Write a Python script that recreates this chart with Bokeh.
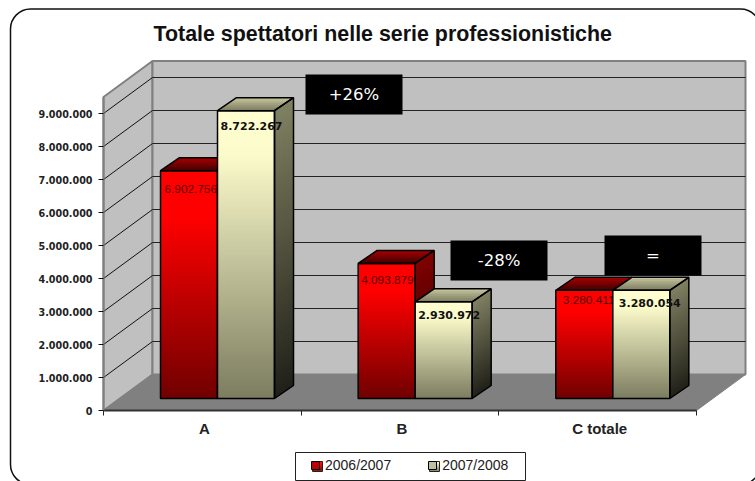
from bokeh.embed import file_html
from bokeh.resources import INLINE
from bokeh.plotting import figure
from bokeh.models import (Range1d, FixedTicker, BoxAnnotation, Legend, LegendItem, Label)
from bokeh.core.properties import value as fixed

title_text = "Totale spettatori nelle serie professionistiche"
categories = ["A", "B", "C totale"]
series_names = ["2006/2007", "2007/2008"]
values_0607 = [6902756, 4093879, 3280411]
values_0708 = [8722267, 2930972, 3280054]
y_ticks = [0, 1000000, 2000000, 3000000, 4000000, 5000000, 6000000, 7000000, 8000000, 9000000]
y_tick_labels = ["0", "1.000.000", "2.000.000", "3.000.000", "4.000.000",
                 "5.000.000", "6.000.000", "7.000.000", "8.000.000", "9.000.000"]
notes = ["+26%", "-28%", "="]

# page pixel geometry: the frame fills the canvas, the axes sit at these pixels
W, H = 755, 481
AX, AY = 103, 410
S = 593 / 3          # pixels per category
PPV = 33 / 1e6       # pixels per spectator


def X(px):
    return (px - AX) / S


def Y(py):
    return (AY - py) / PPV


p = figure(width=W, height=H, output_backend="svg", toolbar_location=None,
           x_range=Range1d(X(0), X(W)), y_range=Range1d(Y(H), Y(0)),
           min_border_left=0, min_border_right=0, min_border_top=0, min_border_bottom=0,
           outline_line_color=None, background_fill_color="white", border_fill_color="white")
p.grid.visible = False

# outer rounded frame
p.add_layout(BoxAnnotation(left=X(10), right=X(760), top=Y(8.5), bottom=Y(484), fill_alpha=0,
                           line_color="#111111", line_alpha=1, line_width=1.5, border_radius=20, level="underlay"))

p.add_layout(Label(x=X(153), y=Y(33), text=title_text, text_font="Liberation Sans", text_font_style="bold",
                   text_font_size="21.4px", text_color="#111111", text_baseline="middle"))

# axes
ya = p.yaxis[0]
ya.fixed_location = 0
ya.ticker = FixedTicker(ticks=y_ticks)
ya.major_label_overrides = dict(zip(y_ticks, y_tick_labels))
ya.bounds = (0, 9500000)
ya.axis_line_color = "#808080"
ya.axis_line_width = 2
ya.major_tick_out = 5
ya.major_tick_in = 0
ya.minor_tick_out = 0
ya.minor_tick_in = 0
ya.major_tick_line_color = "#111111"
ya.major_label_standoff = 6
ya.major_label_text_font = "DejaVu Sans"
ya.major_label_text_font_style = "bold"
ya.major_label_text_font_size = "9.6px"
ya.major_label_text_color = "#222222"

xa = p.xaxis[0]
xa.fixed_location = 0
cat_pos = [i + 0.5 + 2 / S for i in range(len(categories))]
xa.ticker = FixedTicker(ticks=cat_pos, minor_ticks=list(range(len(categories) + 1)))
xa.major_label_overrides = dict(zip(cat_pos, categories))
xa.bounds = (0, len(categories))
xa.axis_line_color = "#333333"
xa.axis_line_width = 2
xa.major_tick_out = 0
xa.major_tick_in = 0
xa.minor_tick_out = 5
xa.minor_tick_in = 0
xa.minor_tick_line_color = "#222222"
xa.major_label_standoff = 4
xa.major_label_text_font = "Liberation Sans"
xa.major_label_text_font_style = "bold"
xa.major_label_text_font_size = "15px"
xa.major_label_text_color = "#222222"

# walls and floor
WDX, WDY = 49 / S, 36 / PPV
TOP = 9500000
N = len(categories)
WALL = "#c0c0c0"
p.patch([0, WDX, WDX, 0], [0, WDY, TOP + WDY, TOP], fill_color=WALL, line_color="#808080", line_width=2)
p.patch([WDX, WDX + N, WDX + N, WDX], [WDY, WDY, TOP + WDY, TOP + WDY], fill_color=WALL,
        line_color="#808080", line_width=2)
p.patch([0, N, N + WDX, WDX], [0, 0, WDY, WDY], fill_color="#808080", line_color="#808080", line_width=1)
gt = y_ticks[1:]
p.segment(x0=[0] * len(gt), y0=gt, x1=[WDX] * len(gt), y1=[t + WDY for t in gt], line_color="#111111", line_width=1)
p.segment(x0=[WDX] * len(gt), y0=[t + WDY for t in gt], x1=[WDX + N] * len(gt), y1=[t + WDY for t in gt],
          line_color="#222222", line_width=1)


def mix(stops, t):
    for (t0, c0), (t1, c1) in zip(stops, stops[1:]):
        if t <= t1:
            f = (t - t0) / (t1 - t0)
            return "#%02x%02x%02x" % tuple(round(a + (b - a) * f) for a, b in zip(c0, c1))
    return "#%02x%02x%02x" % stops[-1][1]


def shaded(polys, stops, level="glyph"):
    n = len(polys)
    xs = [q[0] for q in polys]
    ys = [q[1] for q in polys]
    cols = [mix(stops, (i + 0.5) / n) for i in range(n)]
    p.patches(xs, ys, fill_color=cols, line_color=None, level=level)


STYLE = [
    dict(front=[(0, (255, 0, 0)), (0.2, (255, 0, 0)), (1, (112, 0, 0))],
         side=[(0, (128, 0, 0)), (1, (40, 0, 0))],
         top=[(0, (64, 0, 0)), (1, (170, 0, 0))]),
    dict(front=[(0, (254, 254, 208)), (0.15, (251, 251, 203)), (1, (124, 124, 96))],
         side=[(0, (128, 128, 98)), (1, (32, 32, 24))],
         top=[(0, (122, 122, 96)), (1, (200, 200, 160))]),
]

BW, DDX, DDY, BASE = 57 / S, 19 / S, 13 / PPV, 12 / PPV
LEFT0 = 57 / S
OV = 0.8 / PPV       # each colour band runs under the next one, so that no seam shows
all_series = [values_0607, values_0708]
label_dy = [[18, 17, 10], [15, 13, 13]]
label_dx = [[4, 3, 7], [3, 3, 6]]
for i in range(N):
    for k, vals in enumerate(all_series):
        st = STYLE[k]
        x0 = i + LEFT0 + k * BW
        x1 = x0 + BW
        y0 = BASE
        y1 = vals[i] + BASE
        # front
        m = max(8, int((y1 - y0) * PPV / 2))
        edges = [y1 - (y1 - y0) * j / m for j in range(m + 1)]
        low = [max(y0, e - OV) for e in edges]
        shaded([([x0, x1, x1, x0], [edges[j], edges[j], low[j + 1], low[j + 1]]) for j in range(m)], st["front"])
        # side
        shaded([([x1, x1 + DDX, x1 + DDX, x1],
                 [edges[j], edges[j] + DDY, low[j + 1] + DDY, low[j + 1]]) for j in range(m)], st["side"])
        # top
        d = 7
        shaded([([x0 + DDX * j / d, x1 + DDX * j / d, x1 + DDX * min(d, j + 1.5) / d, x0 + DDX * min(d, j + 1.5) / d],
                 [y1 + DDY * j / d, y1 + DDY * j / d, y1 + DDY * min(d, j + 1.5) / d, y1 + DDY * min(d, j + 1.5) / d])
                for j in range(d)], st["top"])
        # outlines
        for xs, ys in [([x0, x1, x1, x0], [y0, y0, y1, y1]),
                       ([x1, x1 + DDX, x1 + DDX, x1], [y0, y0 + DDY, y1 + DDY, y1]),
                       ([x0, x1, x1 + DDX, x0 + DDX], [y1, y1, y1 + DDY, y1 + DDY])]:
            p.patch(xs + xs[:1], ys + ys[:1], fill_alpha=0, line_color="#000000", line_width=1.5)
        # value label: the first series' label lies under the next bar
        lx = [x0 + label_dx[k][i] / S]
        ly = [y1 - label_dy[k][i] / PPV]
        txt = [f"{vals[i]:,}".replace(",", ".")]
        if k == 0:
            p.text(lx, ly, text=txt, text_font=fixed("Liberation Sans"), text_font_size="11.8px",
                   text_color="#5a0000", text_baseline="middle", text_align="left")
        else:
            p.text(lx, ly, text=txt, text_font=fixed("DejaVu Sans"), text_font_style="bold", text_font_size="11px",
                   text_color="#111111", text_baseline="middle", text_align="left")

# black notes
nx = [305, 450, 604]
ny = [74, 240, 235]
for a, b, t in zip(nx, ny, notes):
    p.quad(left=X(a), right=X(a + 97), top=Y(b), bottom=Y(b + 40), fill_color="#000000", line_color=None)
    p.text([X(a + 48.5)], [Y(b + 20)], text=[t], text_font=fixed("DejaVu Sans"), text_font_size="16.5px",
           text_color="#ffffff", text_align="center", text_baseline="middle")

# legend box, legend, gradient keys
p.add_layout(BoxAnnotation(left=X(295), right=X(525), top=Y(452), bottom=Y(480), fill_color="white", fill_alpha=1,
                           line_color="#222222", line_alpha=1, line_width=1))
r1 = p.quad(left=[X(-50)], right=[X(-40)], top=[1], bottom=[0], fill_color="#c00000", line_color="#000000")
r2 = p.quad(left=[X(-50)], right=[X(-40)], top=[1], bottom=[0], fill_color="#c0c0a0", line_color="#000000")
legend = Legend(items=[LegendItem(label=series_names[0], renderers=[r1]),
                       LegendItem(label=series_names[1], renderers=[r2])],
                orientation="horizontal", location=(310, 8),
                glyph_width=10, glyph_height=10, label_standoff=5, spacing=36, padding=5, margin=0,
                label_text_font="Liberation Sans", label_text_font_size="14px", label_text_color="#222222",
                border_line_color=None, background_fill_alpha=0, label_height=14)
p.add_layout(legend, "center")
key_x = [312, 429]
for kx, st in zip(key_x, STYLE):
    shaded([([X(kx), X(kx + 10), X(kx + 10), X(kx)], [Y(461 + j), Y(461 + j), Y(462.4 + j), Y(462.4 + j)])
            for j in range(9)], st["front"], level="overlay")
    p.patch([X(kx), X(kx + 10), X(kx + 10), X(kx)], [Y(461), Y(461), Y(471), Y(471)], fill_alpha=0,
            line_color="#222222", line_width=1, level="overlay")

open("out.html", "w").write(file_html(p, INLINE))
